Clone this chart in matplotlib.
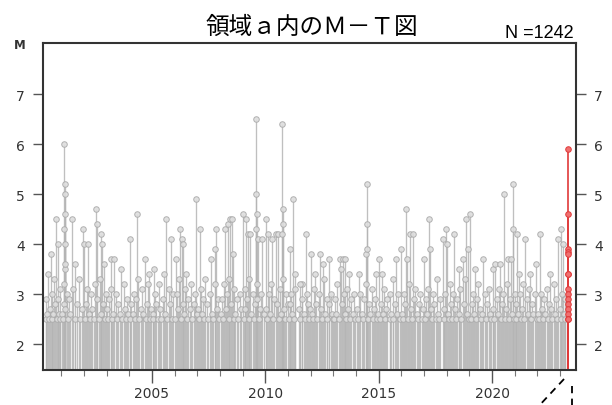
import matplotlib
matplotlib.use("Agg")
import matplotlib.pyplot as plt
from matplotlib.ticker import MultipleLocator

# larger events (M >= 3.4)
t_big = [2000.56, 2000.78, 2000.88, 2001.13, 2001.14, 2001.15, 2001.16, 2001.17, 2001.18, 2001.19,
         2001.47, 2001.59, 2001.96, 2001.99, 2002.18, 2002.54, 2002.56, 2002.74, 2002.81, 2002.91,
         2003.21, 2003.35, 2003.65, 2004.02, 2004.35, 2004.68, 2004.87, 2005.09, 2005.63, 2005.85,
         2006.07, 2006.25, 2006.34, 2006.36, 2006.51, 2006.93, 2007.10, 2007.62, 2007.77, 2007.84,
         2008.21, 2008.35, 2008.46, 2008.55, 2008.58, 2009.01, 2009.16, 2009.23, 2009.34, 2009.59,
         2009.60, 2009.61, 2009.62, 2009.67, 2009.87, 2010.04, 2010.11, 2010.31, 2010.46, 2010.56,
         2010.74, 2010.75, 2010.76, 2010.77, 2011.07, 2011.22, 2011.32, 2011.51, 2011.80, 2012.02,
         2012.20, 2012.41, 2012.53, 2012.79, 2013.29, 2013.33, 2013.41, 2013.53, 2013.70, 2014.12,
         2014.46, 2014.47, 2014.48, 2014.49, 2014.88, 2015.03, 2015.15, 2015.76, 2015.98, 2016.20,
         2016.25, 2016.39, 2016.53, 2017.01, 2017.23, 2017.26, 2017.82, 2017.97, 2018.00, 2018.34,
         2018.56, 2018.70, 2018.85, 2018.92, 2019.04, 2019.26, 2019.62, 2020.06, 2020.14, 2020.35,
         2020.53, 2020.70, 2020.82, 2020.92, 2020.93, 2021.11, 2021.20, 2021.47, 2021.67, 2021.94,
         2022.10, 2022.56, 2022.92, 2023.04, 2023.12]
m_big = [3.8, 4.5, 4.0, 4.3, 6.0, 5.2, 5.0, 4.6, 4.0, 3.6,
         4.5, 3.6, 4.3, 4.0, 4.0, 4.7, 4.4, 4.2, 4.0, 3.6,
         3.7, 3.7, 3.5, 4.1, 4.6, 3.7, 3.4, 3.5, 4.5, 4.1,
         3.7, 4.3, 4.1, 4.0, 3.4, 4.9, 4.3, 3.7, 3.9, 4.3,
         4.3, 4.4, 4.5, 4.5, 3.8, 4.6, 4.5, 4.2, 4.2, 4.3,
         6.5, 5.0, 4.6, 4.1, 4.1, 4.5, 4.2, 4.1, 4.2, 4.2,
         4.2, 6.4, 4.7, 4.4, 3.9, 4.9, 3.4, 3.2, 4.2, 3.8,
         3.4, 3.8, 3.6, 3.7, 3.7, 3.5, 3.7, 3.7, 3.4, 3.4,
         3.8, 5.2, 4.4, 3.9, 3.4, 3.7, 3.4, 3.7, 3.9, 4.7,
         3.7, 4.2, 4.2, 3.7, 4.5, 3.9, 4.1, 4.3, 4.0, 4.2,
         3.5, 3.7, 4.5, 3.9, 4.6, 3.5, 3.7, 3.5, 3.6, 3.6,
         5.0, 3.7, 3.7, 5.2, 4.3, 4.2, 3.4, 4.1, 3.4, 3.6,
         4.2, 3.4, 4.1, 4.3, 4.0]

# small events (M 2.5 - 3.4), 16 per year
t_small = [
    2000.31, 2000.35, 2000.39, 2000.44, 2000.47, 2000.52, 2000.58, 2000.61, 2000.66, 2000.70, 2000.74, 2000.81, 2000.85, 2000.90, 2000.94, 2000.97,
    2001.03, 2001.07, 2001.11, 2001.13, 2001.17, 2001.19, 2001.24, 2001.29, 2001.35, 2001.41, 2001.52, 2001.63, 2001.70, 2001.77, 2001.85, 2001.93,
    2002.04, 2002.09, 2002.14, 2002.22, 2002.27, 2002.33, 2002.38, 2002.44, 2002.49, 2002.60, 2002.66, 2002.71, 2002.77, 2002.86, 2002.94, 2002.98,
    2003.02, 2003.08, 2003.13, 2003.18, 2003.26, 2003.30, 2003.40, 2003.45, 2003.52, 2003.58, 2003.70, 2003.75, 2003.81, 2003.87, 2003.92, 2003.96,
    2004.05, 2004.10, 2004.15, 2004.21, 2004.27, 2004.31, 2004.40, 2004.44, 2004.50, 2004.55, 2004.62, 2004.72, 2004.78, 2004.83, 2004.91, 2004.96,
    2005.03, 2005.07, 2005.14, 2005.20, 2005.25, 2005.31, 2005.37, 2005.42, 2005.48, 2005.54, 2005.58, 2005.68, 2005.74, 2005.79, 2005.90, 2005.95,
    2006.02, 2006.11, 2006.16, 2006.20, 2006.30, 2006.38, 2006.43, 2006.47, 2006.56, 2006.61, 2006.66, 2006.72, 2006.78, 2006.84, 2006.88, 2006.97,
    2007.04, 2007.08, 2007.15, 2007.20, 2007.25, 2007.31, 2007.36, 2007.42, 2007.48, 2007.55, 2007.66, 2007.71, 2007.80, 2007.88, 2007.92, 2007.96,
    2008.03, 2008.07, 2008.12, 2008.17, 2008.25, 2008.29, 2008.38, 2008.41, 2008.50, 2008.60, 2008.64, 2008.68, 2008.74, 2008.80, 2008.88, 2008.95,
    2009.05, 2009.09, 2009.12, 2009.19, 2009.27, 2009.30, 2009.39, 2009.44, 2009.49, 2009.55, 2009.62, 2009.64, 2009.72, 2009.78, 2009.83, 2009.93,
    2010.02, 2010.07, 2010.15, 2010.20, 2010.26, 2010.35, 2010.40, 2010.51, 2010.60, 2010.66, 2010.70, 2010.78, 2010.82, 2010.89, 2010.93, 2010.98,
    2011.03, 2011.10, 2011.15, 2011.19, 2011.26, 2011.30, 2011.47, 2011.55, 2011.60, 2011.64, 2011.70, 2011.75, 2011.84, 2011.89, 2011.93, 2011.97,
    2012.05, 2012.09, 2012.14, 2012.25, 2012.30, 2012.36, 2012.45, 2012.50, 2012.58, 2012.63, 2012.70, 2012.74, 2012.83, 2012.88, 2012.92, 2012.99,
    2013.03, 2013.07, 2013.13, 2013.18, 2013.23, 2013.37, 2013.45, 2013.50, 2013.58, 2013.62, 2013.66, 2013.75, 2013.80, 2013.85, 2013.90, 2013.95,
    2014.05, 2014.08, 2014.16, 2014.27, 2014.32, 2014.37, 2014.42, 2014.52, 2014.57, 2014.61, 2014.70, 2014.74, 2014.79, 2014.83, 2014.93, 2014.96,
    2015.06, 2015.09, 2015.19, 2015.23, 2015.28, 2015.33, 2015.38, 2015.48, 2015.52, 2015.56, 2015.62, 2015.65, 2015.72, 2015.81, 2015.86, 2015.93,
    2016.03, 2016.08, 2016.13, 2016.17, 2016.29, 2016.33, 2016.43, 2016.47, 2016.57, 2016.62, 2016.67, 2016.72, 2016.78, 2016.84, 2016.89, 2016.95,
    2017.04, 2017.07, 2017.11, 2017.16, 2017.30, 2017.36, 2017.41, 2017.46, 2017.51, 2017.57, 2017.61, 2017.66, 2017.72, 2017.86, 2017.90, 2017.94,
    2018.04, 2018.08, 2018.13, 2018.19, 2018.24, 2018.29, 2018.38, 2018.42, 2018.47, 2018.52, 2018.60, 2018.65, 2018.75, 2018.80, 2018.88, 2018.96,
    2019.08, 2019.12, 2019.17, 2019.21, 2019.30, 2019.34, 2019.40, 2019.45, 2019.52, 2019.57, 2019.67, 2019.72, 2019.77, 2019.86, 2019.90, 2019.95,
    2020.02, 2020.10, 2020.20, 2020.25, 2020.30, 2020.40, 2020.44, 2020.48, 2020.58, 2020.62, 2020.66, 2020.74, 2020.77, 2020.87, 2020.96, 2020.99,
    2021.04, 2021.07, 2021.15, 2021.25, 2021.29, 2021.33, 2021.38, 2021.42, 2021.52, 2021.57, 2021.62, 2021.72, 2021.77, 2021.82, 2021.88, 2021.98,
    2022.03, 2022.06, 2022.14, 2022.19, 2022.24, 2022.29, 2022.34, 2022.40, 2022.45, 2022.50, 2022.60, 2022.66, 2022.71, 2022.76, 2022.82, 2022.87,
    2023.01, 2023.06, 2023.09, 2023.16, 2023.20, 2023.23]
m_small = [
    2.5, 2.9, 2.6, 3.4, 2.5, 2.7, 3.0, 2.5, 2.6, 3.3, 2.8, 2.5, 2.9, 2.6, 3.1, 2.5,
    2.6, 2.5, 3.2, 2.8, 3.5, 2.7, 3.0, 2.5, 2.9, 2.6, 3.1, 2.5, 2.8, 3.3, 2.5, 2.7,
    2.5, 2.8, 3.1, 2.6, 2.5, 3.0, 2.7, 2.5, 3.2, 2.9, 2.5, 3.3, 2.6, 2.8, 2.5, 3.0,
    2.7, 2.5, 2.9, 3.1, 2.5, 2.6, 3.0, 2.5, 2.8, 2.6, 2.5, 3.2, 2.7, 2.5, 2.9, 2.6,
    2.5, 2.8, 2.6, 3.0, 2.5, 2.9, 3.3, 2.5, 2.7, 3.1, 2.6, 2.5, 2.8, 3.2, 2.5, 2.7,
    2.6, 2.5, 3.0, 2.8, 2.5, 3.2, 2.7, 2.5, 2.9, 3.4, 2.6, 2.5, 3.1, 2.8, 2.5, 3.0,
    2.5, 3.0, 2.7, 3.3, 2.5, 2.8, 2.6, 3.1, 2.5, 2.9, 2.7, 3.2, 2.5, 2.8, 3.0, 2.6,
    2.7, 2.5, 3.1, 2.6, 2.9, 2.5, 3.3, 2.8, 2.5, 3.0, 2.6, 2.5, 3.2, 2.7, 2.9, 2.5,
    2.6, 2.9, 2.5, 3.2, 2.7, 3.0, 2.5, 3.3, 2.8, 2.5, 3.1, 2.6, 2.9, 2.5, 3.0, 2.7,
    2.5, 3.1, 2.7, 2.9, 2.5, 3.3, 2.6, 3.0, 2.5, 2.8, 3.2, 2.9, 2.5, 2.7, 3.0, 2.6,
    2.7, 2.5, 3.0, 2.6, 3.2, 2.5, 2.9, 2.8, 2.5, 3.1, 2.6, 3.3, 2.7, 2.5, 3.0, 2.8,
    2.5, 2.8, 3.0, 2.6, 2.5, 3.1, 2.7, 2.5, 2.9, 3.2, 2.6, 2.5, 3.0, 2.8, 2.5, 2.7,
    2.6, 2.5, 3.1, 2.8, 2.5, 3.0, 2.7, 2.5, 3.3, 2.6, 2.9, 2.5, 2.8, 3.0, 2.6, 2.5,
    2.5, 2.9, 2.6, 3.2, 2.5, 2.8, 3.0, 2.6, 2.5, 3.1, 2.7, 2.5, 2.9, 2.6, 3.0, 2.5,
    2.7, 2.5, 3.0, 2.6, 2.5, 2.9, 3.2, 2.5, 2.8, 2.6, 3.1, 2.5, 2.7, 2.9, 2.5, 2.6,
    2.5, 2.8, 2.6, 3.1, 2.5, 2.7, 2.9, 3.0, 2.5, 2.6, 3.3, 2.5, 2.8, 2.6, 3.0, 2.5,
    2.6, 2.5, 3.0, 2.8, 2.5, 3.2, 2.7, 2.5, 2.9, 3.1, 2.6, 2.5, 2.8, 3.0, 2.5, 2.7,
    2.5, 2.9, 2.6, 3.1, 2.7, 2.5, 3.0, 2.8, 2.5, 3.3, 2.6, 2.5, 2.9, 2.7, 2.5, 3.0,
    2.6, 2.5, 3.2, 2.8, 2.5, 3.0, 2.7, 2.5, 2.9, 2.6, 3.1, 2.5, 2.8, 3.3, 2.6, 2.5,
    2.5, 2.8, 3.0, 2.6, 2.5, 2.9, 3.2, 2.7, 2.5, 2.6, 3.0, 2.5, 2.8, 3.1, 2.6, 2.5,
    2.7, 2.5, 2.9, 2.6, 3.1, 2.5, 2.8, 3.0, 2.5, 2.7, 3.2, 2.5, 2.9, 2.6, 2.5, 3.0,
    2.5, 2.8, 2.6, 3.0, 2.5, 2.7, 3.2, 2.5, 2.9, 2.6, 3.1, 2.5, 2.8, 2.6, 3.0, 2.5,
    2.6, 2.5, 3.0, 2.7, 2.5, 2.9, 2.6, 3.1, 2.5, 2.8, 2.7, 2.5, 3.2, 2.6, 2.9, 2.5,
    2.7, 2.5, 3.0, 2.6, 2.9, 2.5]

# latest period (red)
t_red = [2023.34, 2023.34, 2023.35, 2023.35, 2023.35, 2023.35, 2023.35, 2023.35, 2023.35,
         2023.35, 2023.35, 2023.36, 2023.36, 2023.36, 2023.36]
m_red = [5.9, 4.6, 3.9, 3.85, 3.8, 3.4, 3.4, 3.1, 3.0, 2.9, 2.8, 2.7, 2.6, 2.5, 2.5]

n_total = 1242
y_bottom = 1.48
assert len(t_big) == len(m_big) and len(t_small) == len(m_small)

fig = plt.figure(figsize=(6.12, 4.06), dpi=100)
ax = fig.add_axes([0.0703, 0.0862, 0.8709, 0.8054])

gray_t = t_small + t_big
gray_m = m_small + m_big
ax.vlines(gray_t, y_bottom, gray_m, colors="#b4b4b4", linewidth=0.95, alpha=0.85)
ax.plot(gray_t, gray_m, "o", ms=4, mfc="#dedede", mec="#aaaaaa", mew=0.7, alpha=0.9)
ax.vlines(t_red, y_bottom, m_red, colors="#e03a3a", linewidth=1.2)
ax.plot(t_red, m_red, "o", ms=4, mfc="#f07070", mec="#e03a3a", mew=0.7)

ax.set_xlim(2000.2, 2023.7)
ax.set_ylim(y_bottom, 8.02)
ax.xaxis.set_major_locator(MultipleLocator(5))
ax.xaxis.set_minor_locator(MultipleLocator(1))
ax.set_yticks([2, 3, 4, 5, 6, 7])
ax.tick_params(axis="y", which="both", left=True, right=True, labelleft=True, labelright=True,
               direction="out", length=7, width=1, colors="#555555", labelcolor="#333333",
               labelsize=10, pad=6)
ax.tick_params(axis="x", which="major", direction="out", length=9.5, width=1, colors="#555555",
               labelcolor="#333333", labelsize=10, pad=2)
ax.tick_params(axis="x", which="minor", direction="out", length=4, width=0.8, colors="#777777")
for s in ax.spines.values():
    s.set_linewidth(1.5)
    s.set_color("#333333")

fig.text(0.032, 0.889, "M", ha="center", va="center", fontsize=8.5, fontweight="bold", color="#333333")
fig.text(0.509, 0.933, "領域ａ内のＭ－Ｔ図", ha="center", va="center", fontsize=17,
         family=["Noto Sans CJK JP", "DejaVu Sans"])
fig.text(0.938, 0.918, f"N ={n_total}", ha="right", va="center", fontsize=13,
         family="Liberation Sans")

# dashed leader lines below the axis
fig.add_artist(plt.Line2D([0.9216, 0.882], [0.064, 0.0], transform=fig.transFigure,
                          color="black", linestyle=(0, (4, 3)), linewidth=1.3))
fig.add_artist(plt.Line2D([0.9346, 0.9346], [0.047, 0.0], transform=fig.transFigure,
                          color="black", linestyle=(0, (4, 3)), linewidth=1.3))

fig.savefig("out.png", dpi=100)
